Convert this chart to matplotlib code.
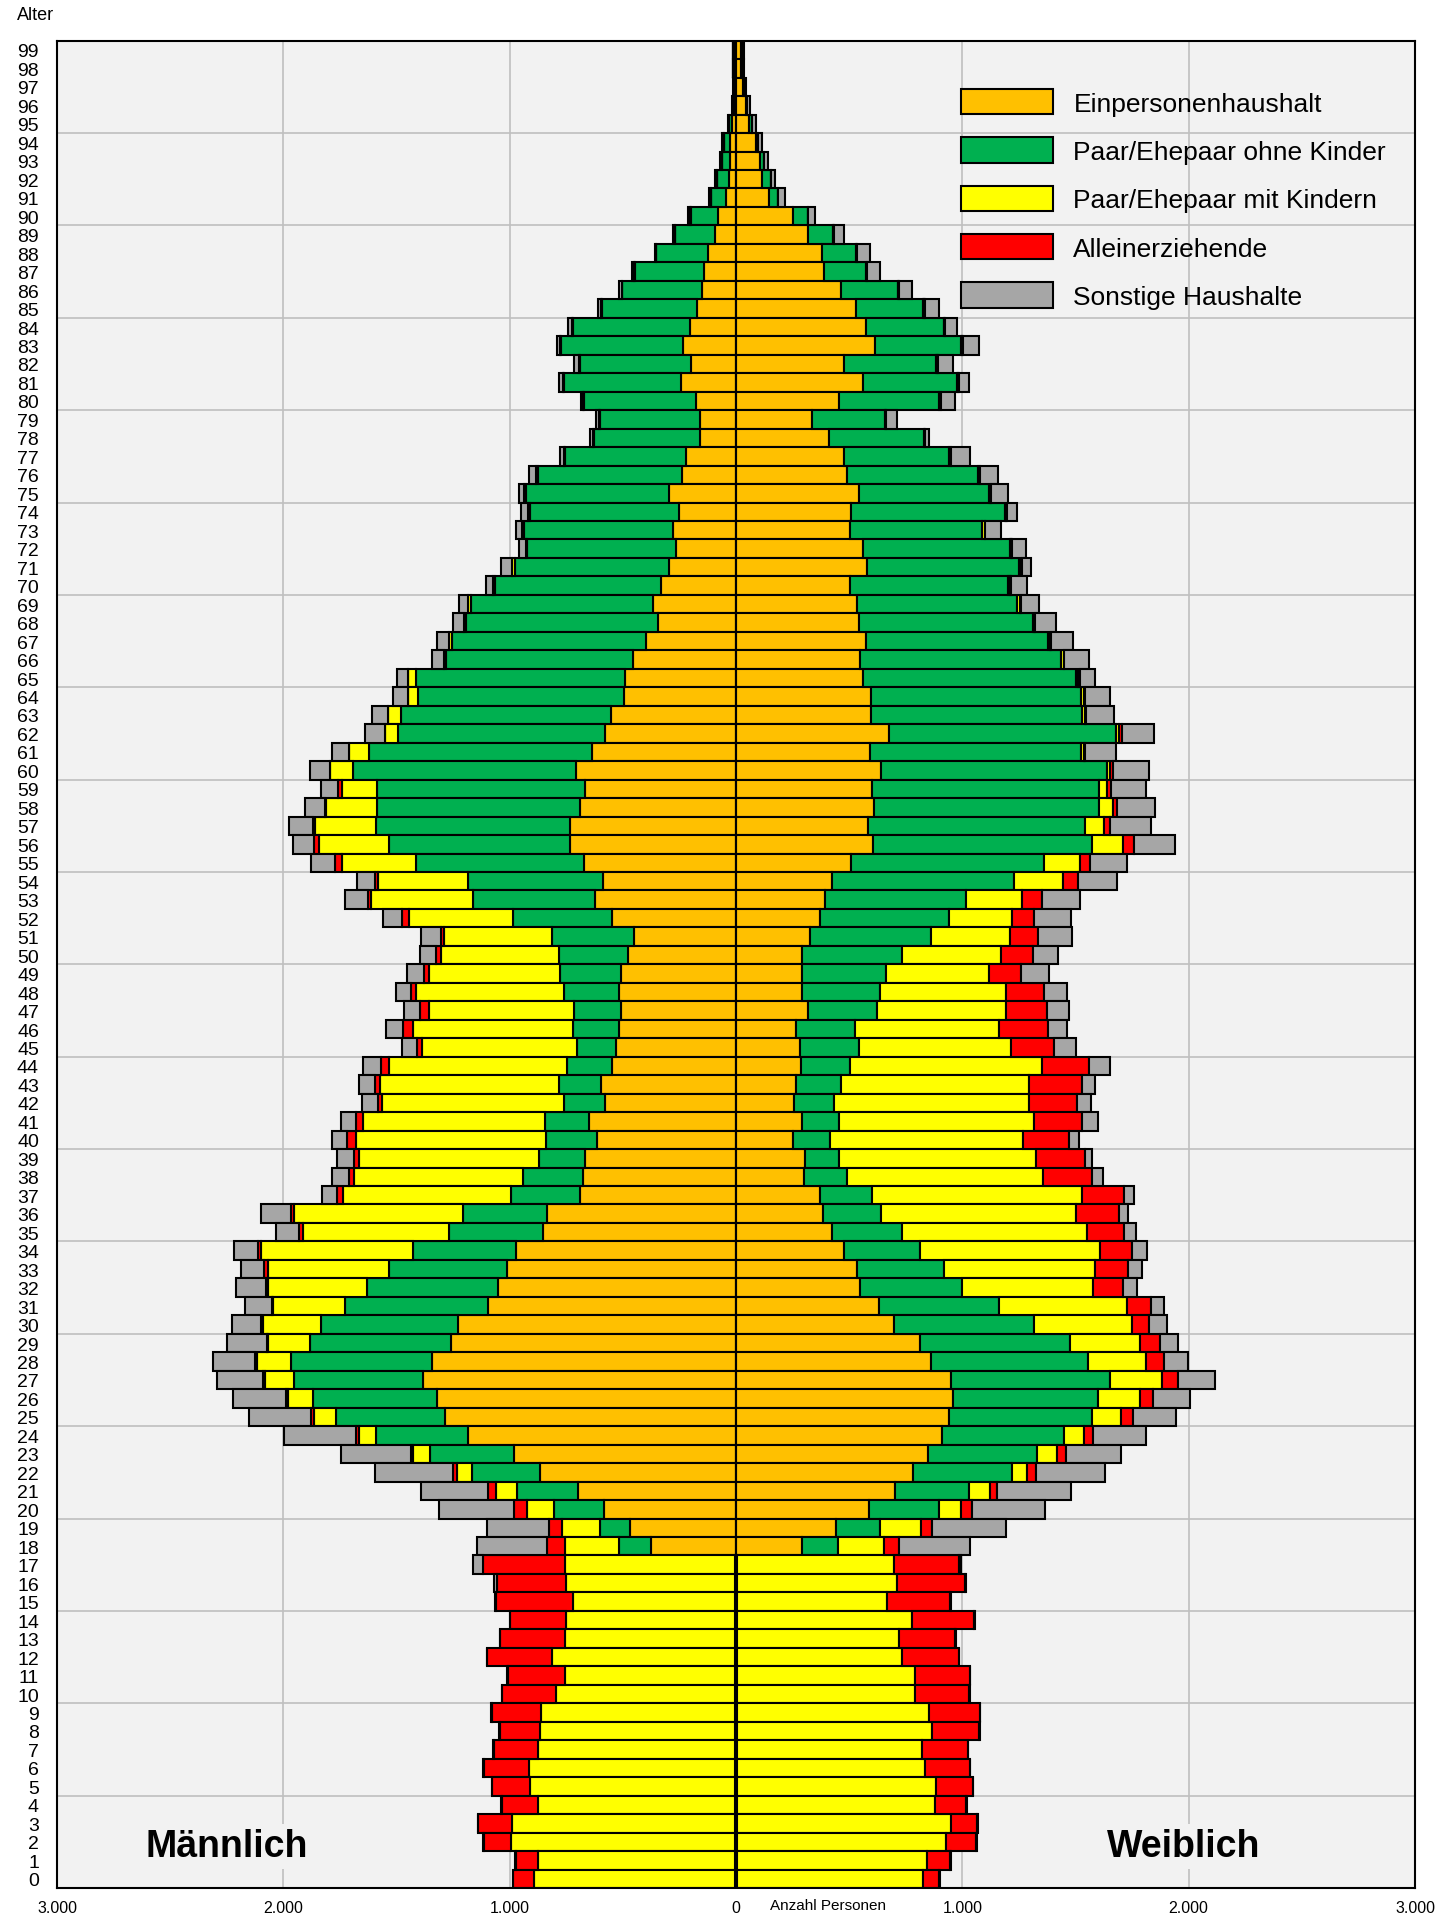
import numpy as np
import matplotlib
matplotlib.use("Agg")
import matplotlib.pyplot as plt
from matplotlib.patches import Patch
import matplotlib.transforms as mtransforms

plt.rcParams['font.family'] = ['Liberation Sans', 'DejaVu Sans']

# ---------------- data (ages listed from 99 down to 0) ----------------
ages = list(range(99, -1, -1))
categories = ["Einpersonenhaushalt", "Paar/Ehepaar ohne Kinder", "Paar/Ehepaar mit Kindern",
              "Alleinerziehende", "Sonstige Haushalte"]
colors = ["#FFC000", "#00B050", "#FFFF00", "#FF0000", "#A6A6A6"]
x_ticks = [-3000, -2000, -1000, 0, 1000, 2000, 3000]
x_ticklabels = ["3.000", "2.000", "1.000", "0", "1.000", "2.000", "3.000"]

# Männlich
m_einp = [8, 8, 7, 10, 18, 25, 28, 30, 45, 78,
          93, 122, 142, 152, 171, 204, 235, 200, 245, 177,
          158, 158, 220, 239, 298, 253, 278, 263, 298, 333,
          366, 346, 399, 457, 492, 496, 551, 578, 638, 706,
          667, 691, 735, 735, 671, 589, 621, 547, 449, 479,
          508, 517, 508, 516, 531, 547, 597, 580, 648, 613,
          667, 675, 691, 833, 852, 973, 1011, 1051, 1095, 1228,
          1261, 1342, 1383, 1319, 1286, 1183, 979, 866, 696, 584,
          469, 375, 5, 5, 5, 4, 4, 4, 4, 4,
          4, 4, 4, 4, 4, 4, 4, 4, 4, 4]
m_ohne = [5, 5, 3, 4, 15, 30, 35, 55, 65, 122,
          175, 230, 305, 350, 422, 517, 539, 490, 515, 494,
          445, 470, 535, 638, 632, 657, 658, 661, 680, 733,
          807, 846, 857, 823, 924, 911, 928, 916, 983, 987,
          919, 895, 856, 798, 745, 594, 542, 437, 364, 305,
          270, 242, 208, 206, 171, 198, 187, 179, 198, 226,
          203, 268, 301, 375, 415, 453, 522, 579, 632, 607,
          622, 625, 568, 551, 481, 408, 373, 301, 273, 220,
          134, 141, 0, 0, 0, 0, 0, 0, 0, 0,
          0, 0, 0, 0, 0, 0, 0, 0, 0, 0]
m_mit = [0, 0, 0, 0, 0, 0, 0, 0, 0, 2,
         2, 2, 3, 3, 3, 4, 4, 5, 5, 4,
         4, 4, 5, 6, 6, 10, 8, 6, 10, 6,
         10, 8, 12, 12, 33, 42, 60, 59, 87, 103,
         155, 225, 267, 311, 325, 399, 448, 461, 477, 521,
         580, 653, 642, 704, 685, 788, 788, 803, 804, 840,
         797, 746, 745, 747, 645, 671, 535, 438, 318, 253,
         185, 150, 131, 111, 97, 74, 74, 65, 91, 120,
         165, 239, 750, 744, 717, 747, 751, 809, 751, 790,
         858, 864, 873, 912, 907, 871, 984, 988, 871, 887]
m_allein = [0, 0, 0, 0, 0, 0, 0, 0, 0, 0,
            0, 0, 0, 0, 0, 0, 0, 0, 0, 0,
            0, 0, 0, 0, 0, 0, 0, 0, 0, 0,
            0, 0, 0, 0, 0, 0, 0, 0, 0, 0,
            16, 3, 12, 20, 31, 15, 14, 30, 15, 20,
            19, 24, 39, 45, 24, 35, 25, 20, 29, 39,
            20, 23, 25, 12, 20, 14, 16, 8, 5, 9,
            5, 10, 10, 9, 13, 14, 10, 19, 35, 55,
            59, 82, 364, 307, 338, 247, 286, 286, 253, 239,
            218, 175, 193, 198, 165, 161, 152, 123, 99, 93]
m_sonst = [2, 2, 2, 2, 3, 8, 7, 8, 8, 8,
           8, 6, 10, 10, 12, 16, 12, 20, 19, 12,
           12, 12, 18, 33, 23, 30, 30, 29, 49, 31,
           39, 51, 51, 52, 49, 65, 68, 87, 78, 87,
           78, 89, 105, 93, 105, 76, 103, 83, 86, 72,
           78, 68, 68, 76, 64, 78, 68, 72, 68, 68,
           74, 74, 69, 130, 101, 109, 105, 132, 121, 131,
           176, 182, 200, 234, 273, 317, 311, 346, 296, 334,
           272, 307, 41, 14, 3, 2, 2, 2, 2, 2,
           2, 2, 2, 2, 2, 2, 2, 2, 2, 2]

# Weiblich
w_einp = [22, 22, 30, 42, 58, 87, 107, 116, 145, 254,
          320, 382, 390, 466, 532, 573, 612, 478, 561, 456,
          336, 410, 476, 491, 544, 507, 503, 559, 581, 503,
          534, 542, 575, 548, 563, 598, 598, 676, 592, 639,
          602, 608, 584, 606, 507, 425, 394, 371, 326, 291,
          291, 293, 316, 264, 282, 287, 264, 256, 293, 250,
          303, 301, 369, 386, 423, 476, 536, 550, 633, 697,
          812, 860, 950, 957, 942, 911, 847, 783, 701, 588,
          441, 291, 5, 5, 5, 5, 5, 5, 5, 5,
          5, 5, 5, 5, 5, 5, 5, 5, 5, 5]
w_ohne = [6, 6, 6, 8, 12, 12, 15, 39, 39, 62,
          107, 148, 186, 248, 295, 344, 383, 405, 416, 443,
          322, 421, 466, 579, 573, 681, 586, 652, 671, 699,
          709, 769, 804, 889, 938, 928, 932, 1004, 932, 1002,
          1002, 996, 956, 969, 854, 804, 622, 571, 534, 443,
          371, 344, 305, 262, 260, 218, 200, 177, 163, 164,
          153, 190, 233, 253, 309, 338, 382, 450, 530, 621,
          664, 695, 702, 641, 629, 536, 485, 436, 330, 307,
          196, 158, 0, 0, 0, 0, 0, 0, 0, 0,
          0, 0, 0, 0, 0, 0, 0, 0, 0, 0]
w_mit = [0, 0, 0, 0, 0, 0, 0, 0, 2, 2,
         3, 3, 3, 3, 4, 4, 5, 5, 5, 5,
         4, 4, 8, 6, 6, 6, 10, 6, 8, 10,
         10, 6, 10, 10, 12, 12, 12, 12, 14, 12,
         33, 62, 87, 134, 159, 214, 248, 277, 350, 437,
         455, 557, 573, 637, 672, 845, 829, 860, 861, 854,
         870, 864, 928, 862, 821, 796, 670, 579, 565, 432,
         307, 257, 231, 188, 130, 89, 85, 68, 93, 101,
         180, 203, 694, 708, 660, 772, 714, 729, 786, 788,
         846, 859, 819, 830, 877, 873, 945, 925, 840, 821]
w_allein = [0, 0, 0, 0, 0, 0, 0, 0, 0, 0,
            2, 2, 2, 2, 2, 2, 3, 3, 3, 3,
            2, 2, 2, 3, 3, 3, 3, 3, 3, 3,
            4, 4, 4, 4, 5, 5, 5, 12, 4, 12,
            19, 19, 25, 48, 43, 68, 86, 98, 126, 140,
            141, 167, 179, 216, 190, 209, 237, 214, 213, 204,
            214, 220, 185, 190, 162, 140, 146, 132, 107, 73,
            91, 81, 70, 55, 52, 43, 39, 39, 31, 45,
            47, 66, 287, 297, 281, 275, 250, 250, 242, 236,
            225, 211, 200, 198, 163, 140, 116, 132, 101, 72]
w_sonst = [7, 7, 9, 10, 17, 17, 20, 16, 29, 30,
           44, 57, 56, 58, 66, 54, 71, 66, 44, 62,
           49, 17, 83, 80, 76, 44, 71, 60, 40, 69,
           83, 93, 94, 108, 70, 109, 123, 143, 139, 160,
           156, 165, 183, 181, 165, 172, 170, 165, 149, 112,
           126, 101, 99, 83, 97, 93, 58, 62, 68, 43,
           33, 46, 42, 43, 54, 66, 58, 62, 54, 82,
           79, 103, 165, 165, 189, 233, 245, 305, 327, 324,
           330, 317, 10, 6, 3, 3, 3, 3, 3, 3,
           3, 3, 3, 3, 3, 3, 3, 3, 3, 3]

male = [m_einp, m_ohne, m_mit, m_allein, m_sonst]
female = [w_einp, w_ohne, w_mit, w_allein, w_sonst]

# ---------------- figure ----------------
W, H = 1454, 1915
fig = plt.figure(figsize=(W / 100, H / 100), dpi=100)
fig.patch.set_facecolor("white")
ax = fig.add_axes([57 / W, (H - 1889) / H, 1358 / W, 1847.3 / H])
ax.set_facecolor("#F2F2F2")
ax.set_axisbelow(True)

y = np.array(ages)
lw = 1.5
cum = np.zeros(len(ages))
for vals, col in zip(male, colors):
    v = np.array(vals, dtype=float)
    ax.barh(y, -v, left=-cum, height=1.0, color=col, edgecolor="black", linewidth=lw)
    cum += v
cum = np.zeros(len(ages))
for vals, col in zip(female, colors):
    v = np.array(vals, dtype=float)
    ax.barh(y, v, left=cum, height=1.0, color=col, edgecolor="black", linewidth=lw)
    cum += v

ax.axvline(0, color="black", linewidth=1.5, zorder=3)

ax.set_xlim(-3000, 3000)
ax.set_ylim(-0.5, 99.5)
ax.set_xticks(x_ticks)
ax.set_xticklabels(x_ticklabels, fontsize=11.5)
ax.set_yticks(np.arange(0, 100))
ax.set_yticklabels([str(a) for a in range(100)], fontsize=14)
ax.set_yticks(np.arange(4.5, 99, 5), minor=True)
ax.tick_params(axis="y", which="both", length=0, pad=13)
ax.tick_params(axis="x", length=0, pad=9)
ax.grid(axis="x", which="major", color="#BFBFBF", linewidth=1.2)
ax.grid(axis="y", which="minor", color="#BFBFBF", linewidth=1.2)
for s in ax.spines.values():
    s.set_color("black")
    s.set_linewidth(1.5)

# legend
handles = [Patch(facecolor=c, edgecolor="black", linewidth=1.5) for c in colors]
ax.legend(handles, categories, loc="upper left", bbox_to_anchor=(0.6657, 0.9738),
          frameon=False, fontsize=19, handlelength=3.5, handleheight=1.1,
          labelspacing=0.82, handletextpad=0.76, borderpad=0, borderaxespad=0)

bbox_kw = dict(facecolor="#F2F2F2", edgecolor="none", pad=3)
ax.text(-2249, 1.75, "Männlich", fontsize=27, fontweight="bold", ha="center", va="center", bbox=bbox_kw)
ax.text(1980, 1.75, "Weiblich", fontsize=27, fontweight="bold", ha="center", va="center", bbox=bbox_kw)

trans = mtransforms.blended_transform_factory(ax.transData, ax.transAxes)
ax.text(150, -0.0092, "Anzahl Personen", fontsize=11, ha="left", va="center", transform=trans)
fig.text(17 / W, 1 - 15 / H, "Alter", fontsize=13, ha="left", va="center")

fig.savefig("out.png", dpi=100)
